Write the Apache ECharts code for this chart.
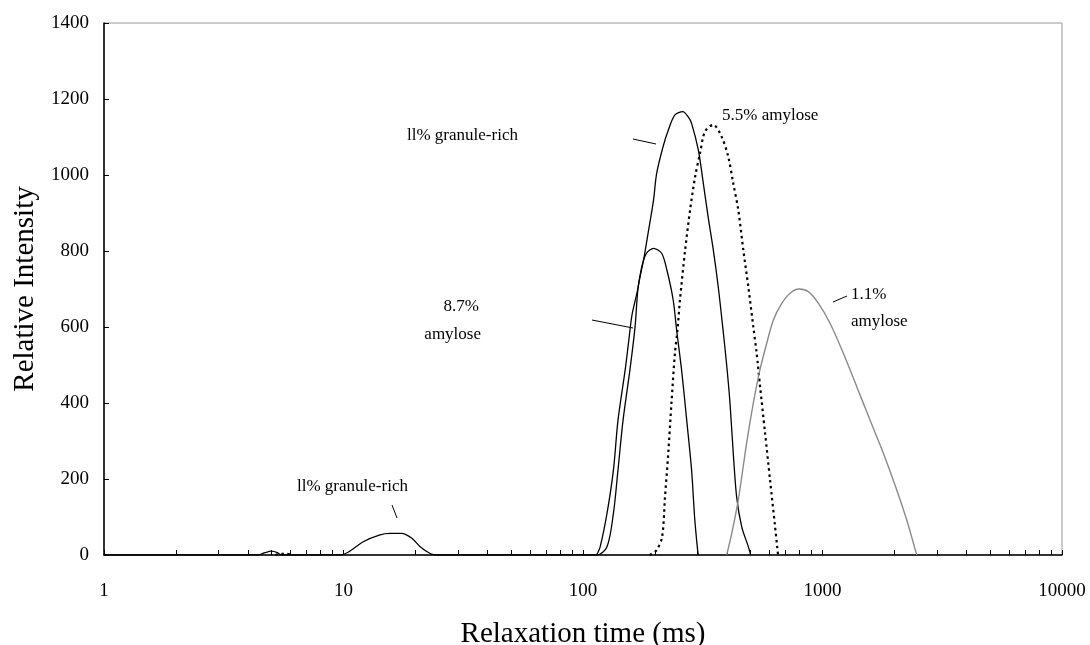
<!DOCTYPE html>
<html><head><meta charset="utf-8">
<script src="https://cdn.jsdelivr.net/npm/echarts@6/dist/echarts.min.js"></script>
<style>html,body{margin:0;padding:0;background:#fff}#c{width:1090px;height:645px}</style>
</head><body><div id="c"></div><script>
// ---- data (relaxation time in ms, relative intensity) ----
const granuleTime = [1, 4.4, 4.7, 5.0, 5.3, 5.5, 9.7, 10.5, 12.1, 14.2, 15.6, 17.5, 19.3, 20.9, 23, 24.5, 114, 126, 134, 140, 147, 157, 165, 170, 179, 187, 197, 203, 216, 227, 242, 261, 275, 284, 303, 318, 333, 350, 367, 383, 398, 411, 424, 438, 460, 490, 501];
const granuleIntensity = [0, 0, 6, 10, 6, 0, 0, 8, 35, 53, 57, 57, 44, 22, 4, 0, 0, 22, 110, 224, 355, 487, 601, 706, 776, 847, 934, 1004, 1075, 1118, 1158, 1167, 1153, 1136, 1066, 978, 890, 803, 706, 601, 500, 399, 268, 153, 74, 22, 0];

const amy87Time = [114, 118, 126, 134, 140, 150, 155, 160, 169, 176, 184, 197, 213, 224, 238, 246, 258, 271, 284, 293, 301, 303];
const amy87Intensity = [0, 22, 110, 224, 355, 487, 560, 630, 697, 759, 794, 807, 794, 750, 671, 592, 487, 355, 224, 92, 13, 0];

const amy55Time = [5.2, 5.5, 5.8, 6.1, 100, 190, 203, 214, 220, 227, 234, 242, 248, 254, 267, 280, 294, 308, 323, 350, 379, 404, 424, 445, 467, 490, 514, 531, 548, 575, 604, 634, 652];
const amy55Intensity = [0, 3, 3, 0, null, 0, 13, 48, 153, 268, 399, 531, 592, 671, 803, 908, 996, 1057, 1114, 1132, 1101, 1048, 978, 908, 803, 706, 601, 531, 447, 324, 197, 74, 0];

const amy11Time = [398, 418, 445, 482, 514, 548, 585, 623, 676, 732, 798, 873, 962, 1075, 1222, 1390, 1579, 1795, 2042, 2248, 2397, 2474];
const amy11Intensity = [0, 57, 145, 294, 399, 487, 557, 618, 662, 689, 700, 693, 662, 610, 531, 443, 355, 268, 171, 92, 31, 0];

const xTickLabels = ['1', '10', '100', '1000', '10000'];
const minorMultipliers = [2, 3, 4, 5, 6, 7, 8, 9];
const decadeExponents = [0, 1, 2, 3];

const FONT = "'Liberation Serif', 'Times New Roman', serif";

function pairs(t, v) { return t.map((x, i) => [x, v[i] === null ? '-' : v[i]]); }
const minorTickPositions = [];
decadeExponents.forEach(d => minorMultipliers.forEach(m => minorTickPositions.push(Math.log10(m) + d)));

const chart = echarts.init(document.getElementById('c'), null, { renderer: 'canvas' });
chart.setOption({
  animation: false,
  backgroundColor: '#fff',
  grid: { left: 104, right: 28, top: 23, bottom: 90, show: true, borderColor: '#999', borderWidth: 1,
          containLabel: false, outerBoundsMode: 'none' },
  xAxis: [
    {
      type: 'log', logBase: 10, min: 1, max: 10000, position: 'bottom',
      name: 'Relaxation time (ms)', nameLocation: 'middle', nameGap: 65,
      nameTextStyle: { fontFamily: FONT, fontSize: 29, color: '#000' },
      axisLine: { show: true, onZero: false, lineStyle: { color: '#000', width: 1.5 } },
      axisTick: { show: true, inside: true, length: 5, lineStyle: { color: '#000', width: 1 } },
      axisLabel: { margin: 27, fontFamily: FONT, fontSize: 19, color: '#000',
        formatter: v => xTickLabels[Math.round(Math.log10(v))] },
      splitLine: { show: false }
    },
    {
      type: 'value', min: 0, max: 4, interval: 1, position: 'bottom',
      axisLine: { show: false }, axisLabel: { show: false }, splitLine: { show: false },
      axisTick: { show: true, inside: true, length: 5, lineStyle: { color: '#000', width: 1 }, customValues: minorTickPositions }
    }
  ],
  yAxis: {
    type: 'value', min: 0, max: 1400, interval: 200,
    name: 'Relative Intensity', nameLocation: 'middle', nameGap: 54, nameRotate: 90,
    nameTextStyle: { fontFamily: FONT, fontSize: 29, color: '#000' },
    axisLine: { show: true, lineStyle: { color: '#000', width: 1.5 } },
    axisTick: { show: true, inside: true, length: 5, lineStyle: { color: '#000', width: 1 } },
    axisLabel: { margin: 15, fontFamily: FONT, fontSize: 19, color: '#000', formatter: v => String(v) },
    splitLine: { show: false }
  },
  series: [
    { name: 'll% granule-rich', type: 'line', xAxisIndex: 0, data: pairs(granuleTime, granuleIntensity),
      showSymbol: false, symbol: 'none', smooth: 0.3, lineStyle: { color: '#000', width: 1.3 } },
    { name: '8.7% amylose', type: 'line', xAxisIndex: 0, data: pairs(amy87Time, amy87Intensity),
      showSymbol: false, symbol: 'none', smooth: 0.3, lineStyle: { color: '#000', width: 1.3 } },
    { name: '5.5% amylose', type: 'line', xAxisIndex: 0, data: pairs(amy55Time, amy55Intensity),
      showSymbol: false, symbol: 'none', smooth: 0.3, connectNulls: false, lineStyle: { color: '#000', width: 2.2, type: [2.5, 3.5] } },
    { name: '1.1% amylose', type: 'line', xAxisIndex: 0, data: pairs(amy11Time, amy11Intensity),
      showSymbol: false, symbol: 'none', smooth: 0.3, lineStyle: { color: '#8a8a8a', width: 1.4 } }
  ],
  graphic: [
    { type: 'text', left: 407, top: 127, style: { text: 'll% granule-rich', font: '17px ' + FONT, fill: '#000' } },
    { type: 'line', shape: { x1: 633, y1: 139, x2: 656, y2: 144 }, style: { stroke: '#000', lineWidth: 1 } },
    { type: 'text', right: 1090 - 479, top: 298, style: { text: '8.7%', font: '17px ' + FONT, fill: '#000' } },
    { type: 'text', right: 1090 - 481, top: 326, style: { text: 'amylose', font: '17px ' + FONT, fill: '#000' } },
    { type: 'line', shape: { x1: 592, y1: 320, x2: 633, y2: 328 }, style: { stroke: '#000', lineWidth: 1 } },
    { type: 'text', left: 722, top: 107, style: { text: '5.5% amylose', font: '17px ' + FONT, fill: '#000' } },
    { type: 'text', left: 851, top: 286, style: { text: '1.1%', font: '17px ' + FONT, fill: '#000' } },
    { type: 'text', left: 851, top: 313, style: { text: 'amylose', font: '17px ' + FONT, fill: '#000' } },
    { type: 'line', shape: { x1: 833, y1: 302, x2: 847, y2: 296 }, style: { stroke: '#000', lineWidth: 1 } },
    { type: 'text', left: 297, top: 478, style: { text: 'll% granule-rich', font: '17px ' + FONT, fill: '#000' } },
    { type: 'line', shape: { x1: 392, y1: 505, x2: 397, y2: 518 }, style: { stroke: '#000', lineWidth: 1 } }
  ]
});
</script></body></html>
